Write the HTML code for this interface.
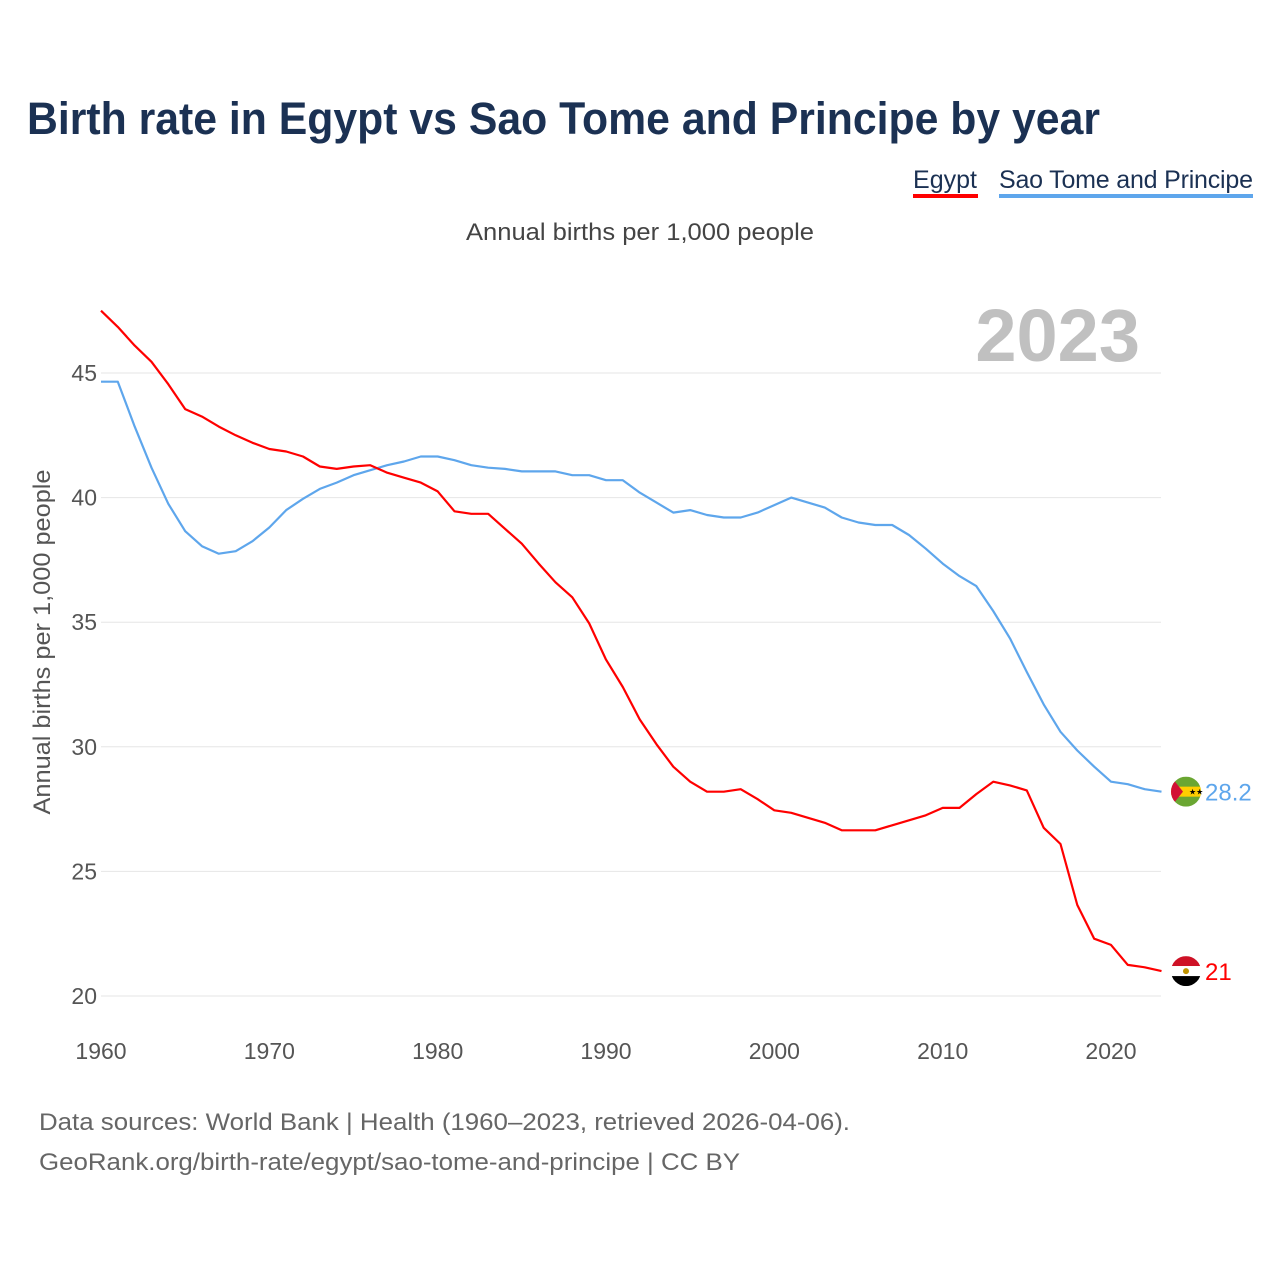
<!DOCTYPE html>
<html><head><meta charset="utf-8"><style>
body{margin:0;background:#fff;font-family:"Liberation Sans",sans-serif;}
#wrap{position:relative;width:1280px;height:1280px;overflow:hidden;}
</style></head><body>
<div id="wrap">
<svg id="chart" width="1280" height="1280"></svg>
</div>
<script>
const years=[];for(let y=1960;y<=2023;y++)years.push(y);
const egypt=[47.5,46.85,46.1,45.45,44.55,43.55,43.25,42.85,42.5,42.2,41.95,41.85,41.65,41.25,41.15,41.25,41.3,41.0,40.8,40.6,40.25,39.45,39.35,39.35,38.75,38.15,37.35,36.6,36.0,34.95,33.5,32.4,31.1,30.1,29.2,28.6,28.2,28.2,28.3,27.9,27.45,27.35,27.15,26.95,26.65,26.65,26.65,26.85,27.05,27.25,27.55,27.55,28.1,28.6,28.45,28.25,26.75,26.1,23.65,22.3,22.05,21.25,21.15,21.0];
const stp=[44.65,44.65,42.85,41.2,39.75,38.65,38.05,37.75,37.85,38.25,38.8,39.5,39.95,40.35,40.6,40.9,41.1,41.3,41.45,41.65,41.65,41.5,41.3,41.2,41.15,41.05,41.05,41.05,40.9,40.9,40.7,40.7,40.2,39.8,39.4,39.5,39.3,39.2,39.2,39.4,39.7,40.0,39.8,39.6,39.2,39.0,38.9,38.9,38.5,37.95,37.35,36.85,36.45,35.45,34.35,33.0,31.7,30.6,29.85,29.2,28.6,28.5,28.3,28.2];
const yTicks=[20,25,30,35,40,45];
const xTicks=[1960,1970,1980,1990,2000,2010,2020];
const egyptLabel="21", stpLabel="28.2";

const NS="http://www.w3.org/2000/svg";
const svg=document.getElementById('chart');
const X=y=>101+(y-1960)*1010/60;
const Y=v=>996-(v-20)*623/25;
function el(tag,attrs,parent){const e=document.createElementNS(NS,tag);for(const k in attrs)e.setAttribute(k,attrs[k]);(parent||svg).appendChild(e);return e;}
function txt(s,attrs){const e=el('text',attrs);e.textContent=s;return e;}
const F='"Liberation Sans",sans-serif';

let t=txt("Birth rate in Egypt vs Sao Tome and Principe by year",{x:27,y:134,'font-size':45,'font-weight':'bold',fill:'#1b3153','font-family':F,textLength:1073,lengthAdjust:'spacingAndGlyphs'});

t=txt("Egypt",{x:913,y:188,'font-size':25,fill:'#1b3153','font-family':F,textLength:64});

let r=el('rect',{x:913,y:194,width:65,height:4,fill:'#ff0000'});

t=txt("Sao Tome and Principe",{x:999,y:188,'font-size':25,fill:'#1b3153','font-family':F,textLength:254});

r=el('rect',{x:999,y:194,width:254,height:4,fill:'#5ea6ec'});

t=txt("Annual births per 1,000 people",{x:466,y:240,'font-size':24,fill:'#444','font-family':F,textLength:348,lengthAdjust:'spacingAndGlyphs'});

t=txt("2023",{x:1140,y:361,'font-size':74,'font-weight':'bold',fill:'#c0c0c0','text-anchor':'end','font-family':F});


yTicks.forEach(v=>{
  const g=el('line',{x1:101,x2:1161,y1:Y(v),y2:Y(v),stroke:'#e6e6e6','stroke-width':1});
  
  const l=txt(String(v),{x:97,y:Y(v)+8,'font-size':23,fill:'#555','text-anchor':'end','font-family':F});
  
});
xTicks.forEach(v=>{
  const l=txt(String(v),{x:X(v),y:1059,'font-size':23,fill:'#555','text-anchor':'middle','font-family':F});
  
});
t=txt("Annual births per 1,000 people",{x:0,y:0,'font-size':24,fill:'#555','text-anchor':'middle','font-family':F,textLength:345,lengthAdjust:'spacingAndGlyphs',transform:'translate(50,642) rotate(-90)'});


function line(data,color,name){
  const d=data.map((v,i)=>(i?'L':'M')+X(years[i]).toFixed(1)+','+Y(v).toFixed(1)).join('');
  const p=el('path',{d:d,fill:'none',stroke:color,'stroke-width':2.2,'stroke-linejoin':'round'});
  
}
line(stp,'#5ea6ec','line-sao-tome');
line(egypt,'#ff0000','line-egypt');

const ex=1186;
const ey=Y(egypt[egypt.length-1]), sy=Y(stp[stp.length-1]);
const defs=el('defs',{});
const c1=el('clipPath',{id:'ce'},defs);el('circle',{cx:ex,cy:ey,r:15},c1);
const c2=el('clipPath',{id:'cs'},defs);el('circle',{cx:ex,cy:sy,r:15},c2);
let g=el('g',{'clip-path':'url(#ce)'});

el('rect',{x:ex-15,y:ey-15,width:30,height:10,fill:'#ce1126'},g);
el('rect',{x:ex-15,y:ey-5,width:30,height:10,fill:'#fff'},g);
el('rect',{x:ex-15,y:ey+5,width:30,height:10,fill:'#000'},g);
el('circle',{cx:ex,cy:ey,r:3,fill:'#c09300'},g);
g=el('g',{'clip-path':'url(#cs)'});

el('rect',{x:ex-15,y:sy-15,width:30,height:30,fill:'#6aa632'},g);
el('rect',{x:ex-15,y:sy-5,width:30,height:10,fill:'#ffce00'},g);
el('polygon',{points:`${ex-15},${sy-15} ${ex-3},${sy} ${ex-15},${sy+15}`,fill:'#d21034'},g);
t=txt("★★",{x:ex+3,y:sy+3,'font-size':8,fill:'#000','font-family':'DejaVu Sans'});

t=txt(stpLabel,{x:1205,y:sy+9,'font-size':24,fill:'#5ea6ec','font-family':F});

t=txt(egyptLabel,{x:1205,y:ey+9,'font-size':24,fill:'#ff0000','font-family':F});


t=txt("Data sources: World Bank | Health (1960–2023, retrieved 2026-04-06).",{x:39,y:1130,'font-size':24,fill:'#666','font-family':F,textLength:811,lengthAdjust:'spacingAndGlyphs'});

t=txt("GeoRank.org/birth-rate/egypt/sao-tome-and-principe | CC BY",{x:39,y:1170,'font-size':24,fill:'#666','font-family':F,textLength:701,lengthAdjust:'spacingAndGlyphs'});

</script>
</body></html>
